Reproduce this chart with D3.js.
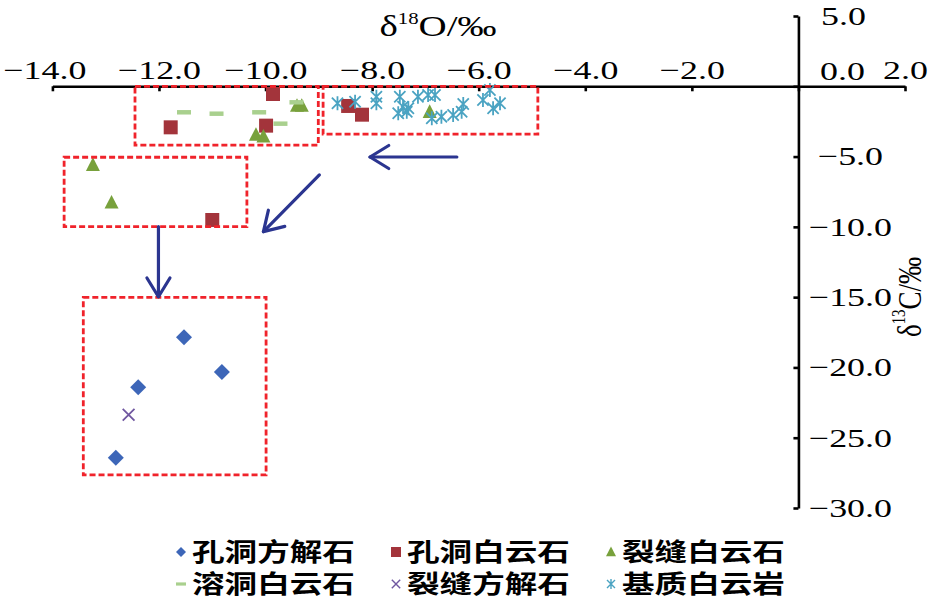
<!DOCTYPE html>
<html><head><meta charset="utf-8">
<script src="https://cdn.jsdelivr.net/npm/d3@7"></script>
<style>html,body{margin:0;padding:0;background:#fff;}svg{display:block;}</style>
</head><body>
<svg id="c" width="933" height="611"></svg>
<script>
// ---------- data ----------
const xTicks = [-14, -12, -10, -8, -6, -4, -2, 0, 2];
const yTicks = [5, 0, -5, -10, -15, -20, -25, -30];
const seriesNames = ["孔洞方解石", "孔洞白云石", "裂缝白云石", "溶洞白云石", "裂缝方解石", "基质白云岩"];

const porousCalcite = [[-11.53, -17.85], [-10.82, -20.32], [-12.39, -21.41], [-12.81, -26.42]];
const porousDolomite = [[-9.86, -0.55], [-11.78, -2.92], [-9.99, -2.80], [-8.45, -1.40], [-8.19, -2.02], [-11.00, -9.51]];
const fractureDolomite = [[-9.41, -1.40], [-9.32, -1.40], [-10.18, -3.46], [-10.04, -3.58], [-13.24, -5.60], [-12.89, -8.28], [-6.92, -1.83]];
const vugDolomite = [[-11.53, -1.85], [-10.92, -1.95], [-10.12, -1.85], [-9.72, -2.66], [-9.42, -1.14]];
const fractureCalcite = [[-12.57, -23.36]];
const matrixDolomite = [[-8.65, -1.21], [-8.32, -1.10], [-7.92, -0.74], [-7.92, -1.21], [-7.48, -0.74], [-7.14, -0.74],
  [-6.95, -0.62], [-6.82, -0.62], [-7.51, -1.92], [-7.35, -1.81], [-7.32, -1.56], [-7.42, -1.45], [-6.88, -2.28],
  [-6.70, -2.16], [-6.48, -2.04], [-6.32, -1.81], [-6.29, -1.26], [-5.92, -0.97], [-5.79, -0.26], [-5.73, -1.56], [-5.60, -1.21]];
const seriesData = [porousCalcite, porousDolomite, fractureDolomite, vugDolomite, fractureCalcite, matrixDolomite];

// annotation boxes [x0, x1, y0, y1] in data units
const boxes = [[-12.45, -9.01, 0, -4.18], [-8.92, -4.89, 0, -3.41], [-13.78, -10.35, -5.05, -9.99], [-13.42, -9.99, -15.01, -27.65]];
// arrows [xFrom, yFrom, xTo, yTo] in data units
const arrows = [[-6.41, -5.03, -8.04, -5.03], [-8.99, -6.31, -10.04, -10.34], [-12.01, -9.99, -12.01, -14.97]];

// ---------- styles ----------
const markerTypes = ["diamond", "square", "triangle", "dash", "cross", "star"];
const markerColors = ["#3d66b8", "#a3343b", "#78a13c", "#a9d08e", "#7057a0", "#4aa3c2"];

const svg = d3.select("#c");
const x = d3.scaleLinear().domain([-14, 2]).range([52.4, 905]);
const y = d3.scaleLinear().domain([5, -30]).range([16, 508]);
const fmt = d3.format(".1f");
const SX = 1.38;

function markerPath(type, s) {
  const h = s / 2;
  switch (type) {
    case "diamond": return `M0,${-h}L${h},0L0,${h}L${-h},0Z`;
    case "square": return `M${-h},${-h}H${h}V${h}H${-h}Z`;
    case "triangle": return `M0,${-s * 0.55}L${h},${s * 0.42}L${-h},${s * 0.42}Z`;
    case "dash": { const t = s * 0.16; return `M${-h},${-t}H${h}V${t}H${-h}Z`; }
    case "cross": { const a = s * 0.42; return `M${-a},${-a}L${a},${a}M${-a},${a}L${a},${-a}`; }
    case "star": { const a = s * 0.4, v = s * 0.5; return `M${-a},${-a}L${a},${a}M${-a},${a}L${a},${-a}M0,${-v}L0,${v}`; }
  }
}
function styleMarker(sel, type, color, sw) {
  if (type === "cross" || type === "star") sel.attr("fill", "none").attr("stroke", color).attr("stroke-width", sw);
  else sel.attr("fill", color).attr("stroke", "none");
}

// ---------- axes ----------
const xAxis = svg.append("g").attr("transform", `translate(0,${y(0)})`)
  .call(d3.axisTop(x).tickValues(xTicks).tickSize(-5).tickSizeOuter(0).tickPadding(7)
    .tickFormat(d => d === 0 ? "" : fmt(d)));
xAxis.attr("font-family", "'Liberation Serif','Times New Roman',serif").attr("font-size", 26);
xAxis.selectAll("path,line").attr("stroke", "#000").attr("stroke-width", 2.6);
xAxis.selectAll("text").attr("fill", "#000")
  .attr("transform", d => `translate(${d === -14 ? -8 : 0},0) scale(${SX},1)`);

const yAxis = svg.append("g").attr("transform", `translate(${x(0)},0)`)
  .call(d3.axisRight(y).tickValues(yTicks).tickSize(-5).tickSizeOuter(0).tickFormat(fmt));
yAxis.attr("font-family", "'Liberation Serif','Times New Roman',serif").attr("font-size", 26);
yAxis.selectAll("path,line").attr("stroke", "#000").attr("stroke-width", 2.6);
yAxis.selectAll("text").attr("fill", "#000").attr("x", 0).attr("text-anchor", "middle")
  .attr("transform", d => d === 0 ? `translate(44,-15) scale(${SX},1)` : d === 5 ? `translate(45,0) scale(${SX},1)` : `translate(52,0) scale(${SX},1)`);

// axis titles
const xt = svg.append("text").attr("transform", `translate(438,36) scale(1.3,1)`).attr("text-anchor", "middle")
  .attr("font-family", "'Liberation Serif','Times New Roman',serif").attr("font-size", 30).attr("fill", "#000");
xt.append("tspan").text("δ");
xt.append("tspan").attr("font-size", 16).attr("dy", -12).text("18");
xt.append("tspan").attr("dy", 12).text("O/‰");

const yt = svg.append("text").attr("transform", `translate(910,297) rotate(-90) scale(1,1.25)`).attr("text-anchor", "middle")
  .attr("dominant-baseline", "central")
  .attr("font-family", "'Liberation Serif','Times New Roman',serif").attr("font-size", 27).attr("fill", "#000");
yt.append("tspan").text("δ");
yt.append("tspan").attr("font-size", 15).attr("dy", -9).text("13");
yt.append("tspan").attr("dy", 9).text("C/‰");

// ---------- points ----------
seriesData.forEach((data, i) => {
  const g = svg.append("g");
  g.selectAll("path").data(data).join("path")
    .attr("transform", d => `translate(${x(d[0])},${y(d[1])})`)
    .attr("d", markerPath(markerTypes[i], markerTypes[i] === "diamond" ? 16 : 14))
    .call(sel => styleMarker(sel, markerTypes[i], markerColors[i], 1.8));
});

// ---------- annotation boxes ----------
svg.append("g").selectAll("rect").data(boxes).join("rect")
  .attr("x", d => x(d[0])).attr("y", d => y(d[2]))
  .attr("width", d => x(d[1]) - x(d[0])).attr("height", d => y(d[3]) - y(d[2]))
  .attr("fill", "none").attr("stroke", "#f0232b").attr("stroke-width", 2.8).attr("stroke-dasharray", "6,3");

// ---------- arrows ----------
const ag = svg.append("g").attr("stroke", "#2b3590").attr("fill", "none").attr("stroke-width", 3.2)
  .attr("stroke-linecap", "round").attr("stroke-linejoin", "round");
arrows.forEach(a => {
  const x0 = x(a[0]), y0 = y(a[1]), x1 = x(a[2]), y1 = y(a[3]);
  ag.append("line").attr("x1", x0).attr("y1", y0).attr("x2", x1).attr("y2", y1);
  const ang = Math.atan2(y0 - y1, x0 - x1), L = 22, sp = 0.55;
  ag.append("path").attr("d",
    `M${x1 + L * Math.cos(ang + sp)},${y1 + L * Math.sin(ang + sp)}L${x1},${y1}L${x1 + L * Math.cos(ang - sp)},${y1 + L * Math.sin(ang - sp)}`);
});

// ---------- legend ----------
const lg = svg.append("g");
seriesNames.forEach((name, i) => {
  const col = i % 3, row = Math.floor(i / 3);
  const mx = 181 + col * 215, my = 552 + row * 32;
  lg.append("path").attr("transform", `translate(${mx},${my})`)
    .attr("d", markerPath(markerTypes[i], 10))
    .call(sel => styleMarker(sel, markerTypes[i], markerColors[i], 1.4));
  lg.append("text").attr("transform", `translate(${mx + 11},${my + 9}) scale(1.33,1)`)
    .attr("font-family", "'Noto Sans CJK SC','Noto Sans CJK JP',sans-serif").attr("font-weight", 700)
    .attr("font-size", 24.5).attr("fill", "#000").text(name);
});
</script>
</body></html>
